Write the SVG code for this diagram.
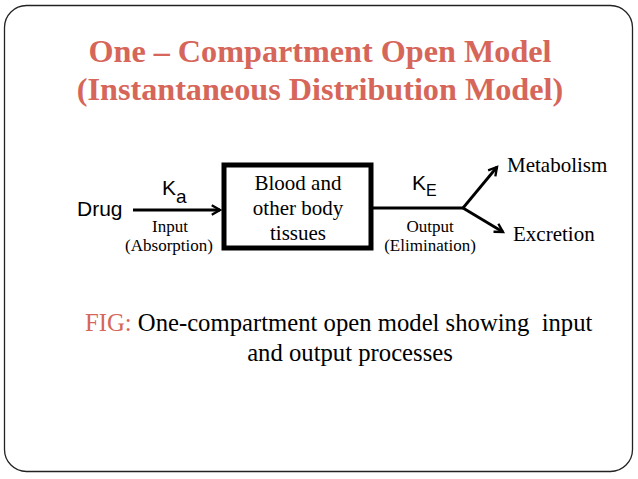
<svg xmlns="http://www.w3.org/2000/svg" width="638" height="479" viewBox="0 0 638 479">
<style>
.title{font-family:"Liberation Serif",serif;font-weight:bold;font-size:32.2px;fill:#d6665a;text-anchor:middle}
.serif{font-family:"Liberation Serif",serif;fill:#000}
.sans{font-family:"Liberation Sans",Arial,sans-serif;fill:#000}
.ln{stroke:#000;stroke-width:2.8;fill:none}
</style>
<defs>
<marker id="arr" viewBox="0 0 10 10" refX="8" refY="5" markerWidth="4.2" markerHeight="4.2" orient="auto" markerUnits="strokeWidth">
<path d="M1,1 L8,5 L1,9" fill="none" stroke="#000" stroke-width="2"/>
</marker>
</defs>
<rect x="4.5" y="5.5" width="628" height="466" rx="22" ry="22" fill="#fff" stroke="#222" stroke-width="1.3"/>
<text class="title" x="320" y="62">One – Compartment Open Model</text>
<text class="title" x="320" y="100">(Instantaneous Distribution Model)</text>
<g id="connectors">
<line class="ln" x1="133" y1="210" x2="220" y2="210" marker-end="url(#arr)"/>
<line class="ln" x1="373" y1="208" x2="463" y2="208"/>
<line class="ln" x1="463" y1="208" x2="497" y2="167" marker-end="url(#arr)"/>
<line class="ln" x1="463" y1="208" x2="503" y2="232" marker-end="url(#arr)"/>
</g>
<g id="drug"><text class="sans" x="77" y="216" font-size="21">Drug</text></g>
<g id="ka"><text class="sans" x="162" y="195" font-size="21">K<tspan font-size="19" dy="8">a</tspan></text></g>
<g id="input"><text class="serif" font-size="17" text-anchor="middle"><tspan x="170" y="232">Input</tspan><tspan x="169" y="251">(Absorption)</tspan></text></g>
<g id="compartment">
<rect x="224" y="165" width="147" height="83" fill="#fff" stroke="#000" stroke-width="5"/>
<text class="serif" font-size="21" text-anchor="middle"><tspan x="298" y="190">Blood and</tspan><tspan x="298" y="215">other body</tspan><tspan x="298" y="240">tissues</tspan></text>
</g>
<g id="ke"><text class="sans" x="412" y="190" font-size="21">K<tspan font-size="16" dy="6">E</tspan></text></g>
<g id="output"><text class="serif" font-size="17" text-anchor="middle"><tspan x="430" y="232">Output</tspan><tspan x="430" y="251">(Elimination)</tspan></text></g>
<g id="metabolism"><text class="serif" x="507" y="172" font-size="21">Metabolism</text></g>
<g id="excretion"><text class="serif" x="513" y="241" font-size="21">Excretion</text></g>
<g id="caption">
<text class="serif" font-size="24.7" x="85" y="331" xml:space="preserve"><tspan fill="#d6665a">FIG:</tspan> One-compartment open model showing  input</text>
<text class="serif" font-size="24.7" x="350" y="361" text-anchor="middle">and output processes</text>
</g>
</svg>
